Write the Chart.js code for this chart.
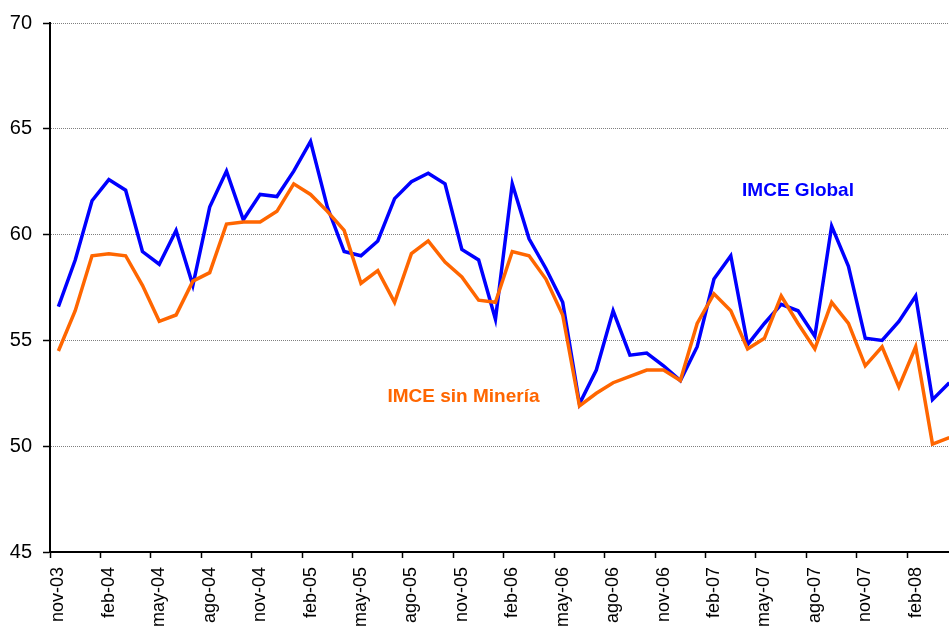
<!DOCTYPE html>
<html>
<head>
<meta charset="utf-8">
<script src="https://cdn.jsdelivr.net/npm/chart.js@4"></script>
<style>
  html, body { margin: 0; padding: 0; background: #fff; overflow: hidden; }
  #wrap { width: 980px; height: 626px; }
</style>
</head>
<body>
<div id="wrap"><canvas id="imce" width="980" height="626"></canvas></div>
<script>
const months = [
  'nov-03','dic-03','ene-04','feb-04','mar-04','abr-04','may-04','jun-04','jul-04','ago-04','sep-04','oct-04',
  'nov-04','dic-04','ene-05','feb-05','mar-05','abr-05','may-05','jun-05','jul-05','ago-05','sep-05','oct-05',
  'nov-05','dic-05','ene-06','feb-06','mar-06','abr-06','may-06','jun-06','jul-06','ago-06','sep-06','oct-06',
  'nov-06','dic-06','ene-07','feb-07','mar-07','abr-07','may-07','jun-07','jul-07','ago-07','sep-07','oct-07',
  'nov-07','dic-07','ene-08','feb-08','mar-08','abr-08'
];

const imceGlobal = [
  56.6, 58.8, 61.6, 62.6, 62.1, 59.2, 58.6, 60.2, 57.6, 61.3, 63.0, 60.7,
  61.9, 61.8, 63.0, 64.4, 61.3, 59.2, 59.0, 59.7, 61.7, 62.5, 62.9, 62.4,
  59.3, 58.8, 56.0, 62.4, 59.8, 58.4, 56.8, 52.0, 53.6, 56.4, 54.3, 54.4,
  53.8, 53.1, 54.7, 57.9, 59.0, 54.8, 55.8, 56.7, 56.4, 55.2, 60.4, 58.5,
  55.1, 55.0, 55.9, 57.1, 52.2, 53.0
];

const imceSinMineria = [
  54.5, 56.4, 59.0, 59.1, 59.0, 57.6, 55.9, 56.2, 57.8, 58.2, 60.5, 60.6,
  60.6, 61.1, 62.4, 61.9, 61.1, 60.2, 57.7, 58.3, 56.8, 59.1, 59.7, 58.7,
  58.0, 56.9, 56.8, 59.2, 59.0, 57.9, 56.2, 51.9, 52.5, 53.0, 53.3, 53.6,
  53.6, 53.1, 55.8, 57.2, 56.4, 54.6, 55.1, 57.1, 55.8, 54.6, 56.8, 55.8,
  53.8, 54.7, 52.8, 54.7, 50.1, 50.4
];

const yTicks = [45, 50, 55, 60, 65, 70];

// series captions, placed in data coordinates
const captions = [
  { text: 'IMCE Global', color: '#0000FF', at: 44, value: 62.05 },
  { text: 'IMCE sin Minería', color: '#FF6600', at: 24.1, value: 52.35 }
];

const FONT = '"Liberation Sans", Arial, sans-serif';

const captionPlugin = {
  id: 'captions',
  afterDatasetsDraw(chart) {
    const ctx = chart.ctx;
    const xs = chart.scales.x, ys = chart.scales.y;
    ctx.save();
    ctx.font = 'bold 19px ' + FONT;
    ctx.textAlign = 'center';
    ctx.textBaseline = 'middle';
    captions.forEach(c => {
      ctx.fillStyle = c.color;
      ctx.fillText(c.text, xs.getPixelForValue(c.at), ys.getPixelForValue(c.value));
    });
    ctx.restore();
  }
};

new Chart(document.getElementById('imce'), {
  type: 'line',
  data: {
    labels: months,
    datasets: [
      {
        label: 'IMCE Global',
        data: imceGlobal,
        borderColor: '#0000FF',
        backgroundColor: '#0000FF',
        borderWidth: 3.5,
        pointRadius: 0,
        tension: 0,
        order: 1
      },
      {
        label: 'IMCE sin Minería',
        data: imceSinMineria,
        borderColor: '#FF6600',
        backgroundColor: '#FF6600',
        borderWidth: 3.5,
        pointRadius: 0,
        tension: 0,
        order: 0
      }
    ]
  },
  options: {
    responsive: false,
    animation: false,
    devicePixelRatio: 1,
    layout: { padding: { left: 0, top: 21, right: 10, bottom: 0 } },
    plugins: {
      legend: { display: false },
      tooltip: { enabled: false }
    },
    scales: {
      x: {
        offset: true,
        afterFit: s => { s.height = 74; },
        grid: {
          offset: true,
          drawOnChartArea: false,
          drawTicks: true,
          tickLength: 6,
          tickWidth: 1.5,
          tickColor: c => (c.index % 3 === 0 ? '#000' : 'rgba(0,0,0,0)')
        },
        border: { color: '#000', width: 2 },
        ticks: {
          autoSkip: false,
          maxRotation: 90,
          minRotation: 90,
          padding: 9,
          color: '#000',
          font: { family: FONT, size: 18 },
          callback: (v, i) => (i % 3 === 0 ? months[i] : '')
        }
      },
      y: {
        min: yTicks[0],
        max: yTicks[yTicks.length - 1],
        afterFit: s => { s.width = 50; },
        afterBuildTicks: s => { s.ticks = yTicks.map(v => ({ value: v })); },
        grid: {
          color: '#7f7f7f',
          lineWidth: 1,
          tickColor: '#000',
          tickLength: 7,
          tickWidth: 1.5
        },
        border: { color: '#000', width: 2, dash: [1, 1] },
        ticks: {
          padding: 11,
          color: '#000',
          font: { family: FONT, size: 20 }
        }
      }
    }
  },
  plugins: [captionPlugin]
});
</script>
</body>
</html>
